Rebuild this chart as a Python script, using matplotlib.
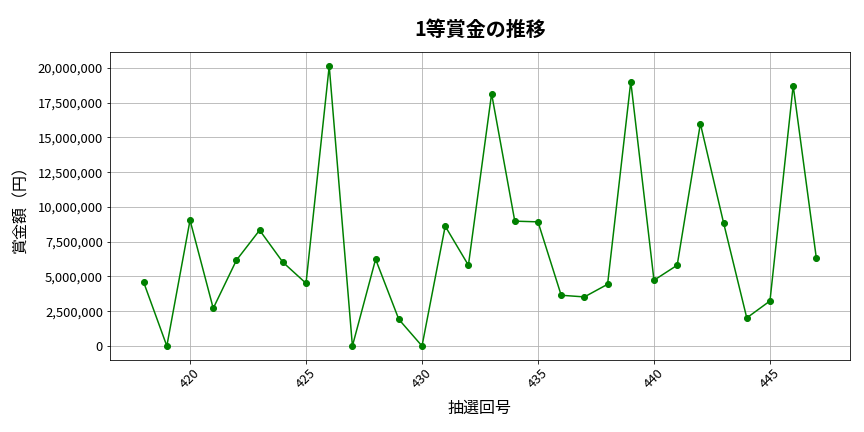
import matplotlib
matplotlib.use("Agg")
import matplotlib.pyplot as plt
from matplotlib.ticker import FuncFormatter

plt.rcParams['font.family'] = ['Noto Sans CJK JP', 'DejaVu Sans']

draws = list(range(418, 448))
prizes = [4590000, 0, 9050000, 2710000, 6170000, 8330000, 6030000, 4510000,
          20140000, 0, 6240000, 1920000, 0, 8620000, 5810000, 18150000,
          8980000, 8930000, 3650000, 3530000, 4440000, 19020000, 4730000,
          5810000, 15990000, 8860000, 2020000, 3240000, 18730000, 6310000]

fig = plt.figure(figsize=(12, 6), dpi=72)
ax = fig.add_axes([110 / 864, 1 - 360 / 432, 740 / 864, 308 / 432])
ax.plot(draws, prizes, marker='o', color='green', linestyle='-', linewidth=1.5, markersize=6)
ax.set_title('1等賞金の推移', fontsize=20, fontweight='bold', pad=16)
ax.set_xlabel('抽選回号', fontsize=16, labelpad=8)
ax.set_ylabel('賞金額（円）', fontsize=16, labelpad=8)
ax.yaxis.set_major_formatter(FuncFormatter(lambda v, p: f'{int(v):,}'))
ax.tick_params(axis='both', labelsize=13)
plt.setp(ax.get_xticklabels(), rotation=45)
ax.grid(True)

fig.savefig('out.png', dpi=72)
